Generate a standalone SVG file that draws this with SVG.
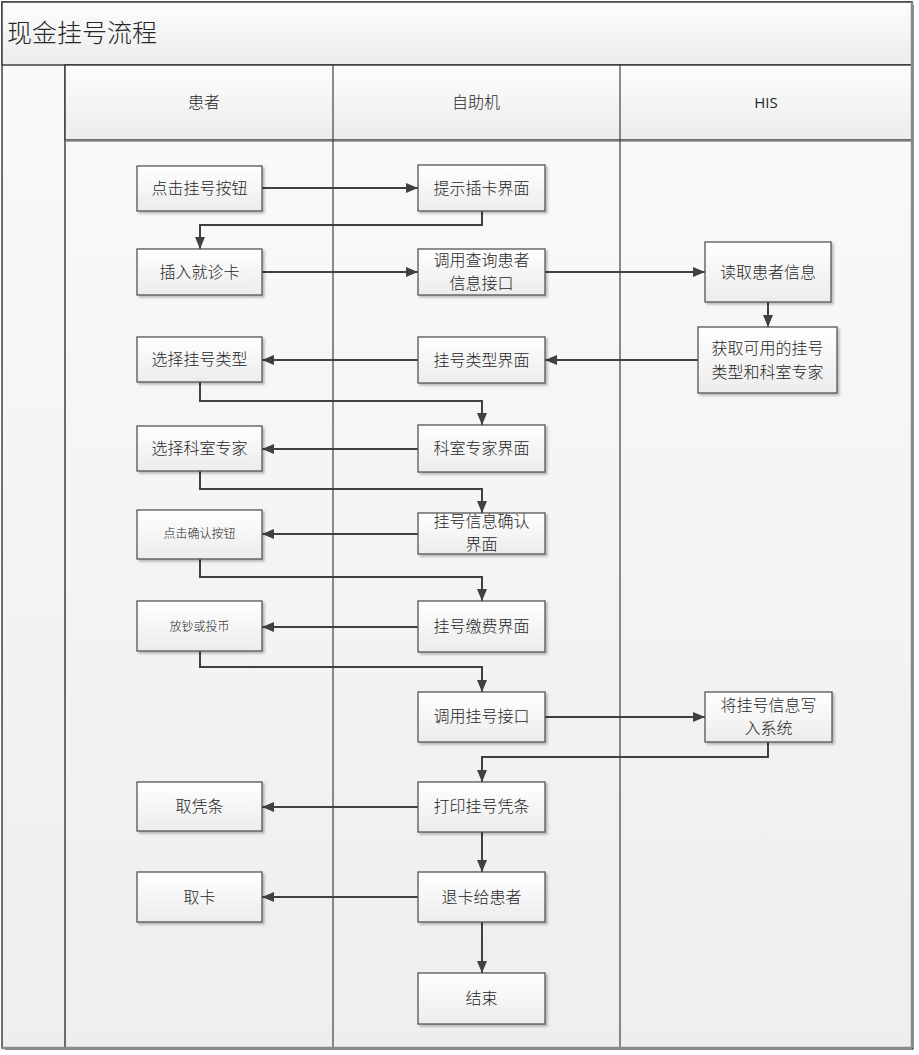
<svg xmlns="http://www.w3.org/2000/svg" width="919" height="1055" viewBox="0 0 919 1055">
<defs>
<linearGradient id="gNode" x1="0" y1="0" x2="0" y2="1"><stop offset="0" stop-color="#ffffff"/><stop offset="1" stop-color="#ececec"/></linearGradient>
<linearGradient id="gBand" x1="0" y1="0" x2="0" y2="1"><stop offset="0" stop-color="#fdfdfd"/><stop offset="1" stop-color="#ececec"/></linearGradient>
<linearGradient id="gLane" x1="0" y1="0" x2="0" y2="1"><stop offset="0" stop-color="#fafafa"/><stop offset="1" stop-color="#eeeeee"/></linearGradient>
<marker id="arr" viewBox="0 0 12 10" refX="12" refY="5" markerWidth="12" markerHeight="10" markerUnits="userSpaceOnUse" orient="auto">
<path d="M0,0 L12,5 L0,10 Z" fill="#404040"/>
</marker>
<filter id="sh" x="-10%" y="-10%" width="130%" height="130%">
<feDropShadow dx="2" dy="2" stdDeviation="1" flood-color="#000" flood-opacity="0.25"/>
</filter>
</defs>
<style>
.node rect{fill:url(#gNode);stroke:#555;stroke-width:1.3;filter:url(#sh)}
.node text{font-family:"Noto Sans CJK SC","Noto Sans",sans-serif;font-weight:300;font-size:16px;fill:#262626;text-anchor:middle}
.node text.sm{font-size:12px}
.conn path{fill:none;stroke:#404040;stroke-width:2;marker-end:url(#arr)}
.hdr{font-family:"Noto Sans CJK SC","Noto Sans",sans-serif;font-weight:300;font-size:16px;fill:#262626;text-anchor:middle}
.his{font-family:"Open Sans","Noto Sans",sans-serif;font-weight:400;font-size:15px;fill:#262626;text-anchor:middle}
.title{font-family:"Noto Sans CJK SC","Noto Sans",sans-serif;font-weight:300;font-size:25px;fill:#262626}
</style>
<rect x="0" y="0" width="919" height="1055" fill="#ffffff"/>
<rect x="5" y="5" width="909" height="1045" fill="#8c8c8c"/>
<rect x="2" y="2" width="910" height="1046" fill="url(#gLane)" stroke="#404040" stroke-width="1.5"/>
<g id="title">
<rect x="2" y="2" width="910" height="63" fill="url(#gBand)" stroke="#404040" stroke-width="1.5"/>
<text class="title" x="7" y="42">现金挂号流程</text>
</g>
<g id="lanes">
<rect x="65" y="65" width="847" height="983" fill="url(#gLane)" stroke="#404040" stroke-width="1.5"/>
<rect x="65" y="65" width="847" height="75" fill="url(#gBand)" stroke="#404040" stroke-width="1.5"/>
<line x1="65" y1="141" x2="912" y2="141" stroke="#8a8a8a" stroke-width="1.5"/>
<line x1="333" y1="65" x2="333" y2="1048" stroke="#404040" stroke-width="1.2"/>
<line x1="620" y1="65" x2="620" y2="1048" stroke="#404040" stroke-width="1.2"/>
<line x1="912" y1="2" x2="912" y2="1048" stroke="#8a8a8a" stroke-width="2.5"/>
<line x1="2" y1="1048" x2="912" y2="1048" stroke="#8a8a8a" stroke-width="2.5"/>
<text class="hdr" x="204" y="108">患者</text>
<text class="hdr" x="476" y="108">自助机</text>
<text class="his" x="766" y="108">HIS</text>
</g>
<g id="connectors" class="conn">
<path d="M262,188 H418"/>
<path d="M482,211 V225 H200 V249"/>
<path d="M262,272 H418"/>
<path d="M545,272 H705"/>
<path d="M768,302 V327"/>
<path d="M698,360 H545"/>
<path d="M418,360 H262"/>
<path d="M200,382 V401 H482 V425"/>
<path d="M418,449 H262"/>
<path d="M200,471 V489 H482 V513"/>
<path d="M418,534 H262"/>
<path d="M200,559 V577 H482 V601"/>
<path d="M418,627 H262"/>
<path d="M200,651 V667 H482 V692"/>
<path d="M545,717 H705"/>
<path d="M768,742 V757 H482 V782"/>
<path d="M418,807 H262"/>
<path d="M482,832 V872"/>
<path d="M418,897 H262"/>
<path d="M482,922 V973"/>
</g>
<g id="n_click_reg" class="node"><rect x="137" y="166" width="125" height="45"/><text x="199.5" y="194">点击挂号按钮</text></g>
<g id="n_insert_card" class="node"><rect x="137" y="249" width="125" height="46"/><text x="199.5" y="278">插入就诊卡</text></g>
<g id="n_sel_type" class="node"><rect x="137" y="337" width="125" height="45"/><text x="199.5" y="365">选择挂号类型</text></g>
<g id="n_sel_dept" class="node"><rect x="137" y="426" width="125" height="45"/><text x="199.5" y="454">选择科室专家</text></g>
<g id="n_click_ok" class="node"><rect x="137" y="510" width="125" height="49"/><text class="sm" x="199.5" y="538">点击确认按钮</text></g>
<g id="n_pay" class="node"><rect x="137" y="601" width="125" height="50"/><text class="sm" x="199.5" y="631">放钞或投币</text></g>
<g id="n_take_slip" class="node"><rect x="137" y="782" width="125" height="49"/><text x="199.5" y="812">取凭条</text></g>
<g id="n_take_card" class="node"><rect x="137" y="872" width="125" height="50"/><text x="199.5" y="903">取卡</text></g>
<g id="n_prompt" class="node"><rect x="418" y="165" width="127" height="46"/><text x="481.5" y="194">提示插卡界面</text></g>
<g id="n_query" class="node"><rect x="418" y="249" width="127" height="46"/><text x="481.5" y="266">调用查询患者</text><text x="481.5" y="289">信息接口</text></g>
<g id="n_type_ui" class="node"><rect x="418" y="337" width="127" height="46"/><text x="481.5" y="366">挂号类型界面</text></g>
<g id="n_dept_ui" class="node"><rect x="418" y="425" width="127" height="47"/><text x="481.5" y="454">科室专家界面</text></g>
<g id="n_confirm_ui" class="node"><rect x="418" y="513" width="127" height="41"/><text x="481.5" y="527">挂号信息确认</text><text x="481.5" y="550">界面</text></g>
<g id="n_pay_ui" class="node"><rect x="418" y="601" width="127" height="51"/><text x="481.5" y="632">挂号缴费界面</text></g>
<g id="n_reg_api" class="node"><rect x="418" y="692" width="127" height="50"/><text x="481.5" y="722">调用挂号接口</text></g>
<g id="n_print" class="node"><rect x="418" y="782" width="127" height="50"/><text x="481.5" y="812">打印挂号凭条</text></g>
<g id="n_return_card" class="node"><rect x="418" y="872" width="127" height="50"/><text x="481.5" y="903">退卡给患者</text></g>
<g id="n_end" class="node"><rect x="418" y="973" width="127" height="51"/><text x="481.5" y="1004">结束</text></g>
<g id="n_read" class="node"><rect x="705" y="242" width="126" height="60"/><text x="768" y="278">读取患者信息</text></g>
<g id="n_get" class="node"><rect x="698" y="327" width="139" height="66"/><text x="767.5" y="354">获取可用的挂号</text><text x="767.5" y="378">类型和科室专家</text></g>
<g id="n_write" class="node"><rect x="705" y="692" width="127" height="50"/><text x="768.5" y="711">将挂号信息写</text><text x="768.5" y="734">入系统</text></g>
</svg>
